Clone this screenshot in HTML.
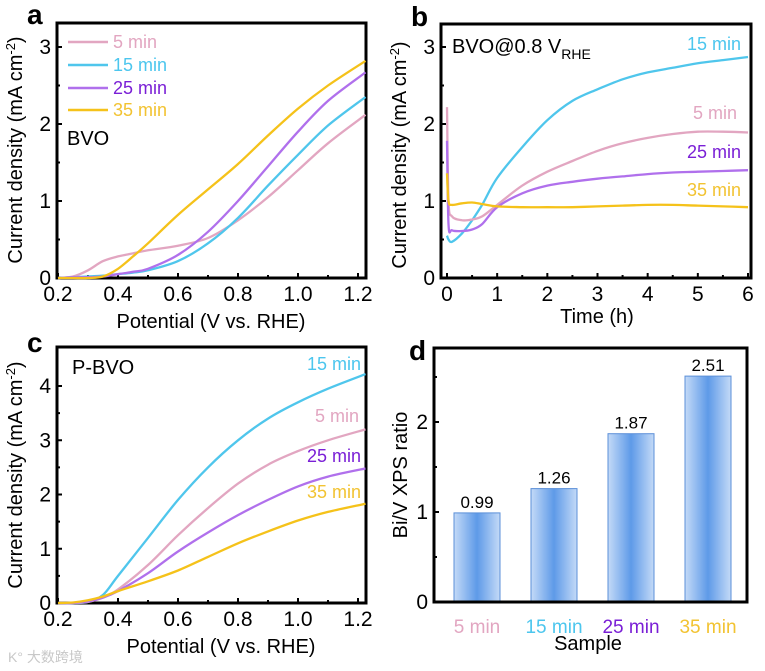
<!DOCTYPE html>
<html><head><meta charset="utf-8"><style>
body{margin:0;background:#fff;}
svg{display:block;font-family:"Liberation Sans",Arial,sans-serif;}
</style></head><body>
<svg id="fig" width="765" height="671" viewBox="0 0 765 671">
<defs>
<linearGradient id="barg" x1="0" x2="1" y1="0" y2="0">
<stop offset="0" stop-color="#c4daf7"/><stop offset="0.5" stop-color="#5e9ae8"/><stop offset="1" stop-color="#c4daf7"/>
</linearGradient>
</defs>
</svg>
<script>
// ---- data ----
const aX=[0.2,0.25,0.3,0.35,0.4,0.45,0.5,0.6,0.7,0.8,0.9,1.0,1.1,1.225];
const a5 =[0,0.02,0.1,0.22,0.28,0.32,0.36,0.42,0.52,0.75,1.05,1.4,1.75,2.12];
const a15=[0,0.01,0.02,0.03,0.05,0.07,0.1,0.22,0.45,0.78,1.2,1.6,1.98,2.35];
const a25=[0,0.01,0.01,0.02,0.05,0.08,0.12,0.3,0.6,1.0,1.45,1.9,2.3,2.67];
const a35=[0,0,0,0.02,0.12,0.28,0.45,0.82,1.15,1.48,1.85,2.2,2.5,2.82];
const bX=[0,0.03,0.1,0.3,0.5,0.7,1,1.5,2,2.5,3,3.5,4,4.5,5,5.5,6];
const b15=[0.55,0.5,0.47,0.58,0.75,0.95,1.3,1.7,2.05,2.3,2.45,2.58,2.67,2.73,2.79,2.83,2.87];
const b5 =[2.22,1.0,0.8,0.75,0.76,0.8,0.95,1.2,1.38,1.52,1.65,1.75,1.82,1.87,1.9,1.9,1.89];
const b25=[1.78,0.7,0.62,0.61,0.63,0.7,0.92,1.1,1.2,1.25,1.29,1.32,1.35,1.37,1.38,1.39,1.4];
const b35=[1.36,1.0,0.95,0.97,0.98,0.96,0.93,0.92,0.92,0.92,0.93,0.94,0.95,0.95,0.94,0.93,0.92];
const cX=[0.2,0.25,0.3,0.35,0.4,0.5,0.6,0.7,0.8,0.9,1.0,1.1,1.225];
const c15=[0,0,0.02,0.15,0.5,1.2,1.9,2.5,3.0,3.4,3.7,3.95,4.22];
const c5 =[0,0,0.02,0.1,0.25,0.7,1.25,1.75,2.2,2.55,2.8,3.0,3.2];
const c25=[0,0,0.03,0.1,0.22,0.55,0.95,1.3,1.62,1.9,2.15,2.33,2.48];
const c35=[0,0.01,0.05,0.12,0.22,0.4,0.6,0.85,1.1,1.32,1.52,1.68,1.83];
const dCats=["5 min","15 min","25 min","35 min"];
const dVals=[0.99,1.26,1.87,2.51];
const dLabels=["0.99","1.26","1.87","2.51"];
const potTicks=["0.2","0.4","0.6","0.8","1.0","1.2"];
const timeTicks=["0","1","2","3","4","5","6"];

const C={p:"#e2a6c1",c:"#4fc6ec",v:"#b070ec",y:"#f5c21a"};
const LC={p:"#e2a6c1",c:"#4cc6ee",v:"#7a1fd6",y:"#f2c332"};
const svg=document.getElementById('fig');
const NS="http://www.w3.org/2000/svg";
function mk(tag,attrs,parent,text){const e=document.createElementNS(NS,tag);for(const k in attrs)e.setAttribute(k,attrs[k]);if(text!==undefined)e.textContent=text;(parent||svg).appendChild(e);return e;}

function panel(o){
  const g=mk('g',{});
  
  
  const sx=v=>o.x0+(v-o.xmin)*(o.x1-o.x0)/(o.xmax-o.xmin);
  const sy=v=>o.y0-(v-o.ymin)*(o.y0-o.y1)/(o.ymax-o.ymin);
  o.sx=sx;o.sy=sy;o.g=g;
  return o;
}
function frame(o){
  const f=mk('rect',{x:o.L,y:o.T,width:o.R-o.L,height:o.B-o.T,fill:'none',stroke:'#000','stroke-width':3},o.g);
  
  
}
function yTicks(o,vals,minor){
  vals.forEach(v=>{const y=o.sy(v);
    mk('line',{x1:o.L,x2:o.L+5,y1:y,y2:y,stroke:'#000','stroke-width':2},o.g);
    const t=mk('text',{x:o.L-6,y:y+7,'text-anchor':'end','font-size':21},o.g,String(v));
    
    });
  (minor||[]).forEach(v=>{const y=o.sy(v);mk('line',{x1:o.L,x2:o.L+3,y1:y,y2:y,stroke:'#000','stroke-width':2},o.g);});
}
function xTicks(o,vals,labels,minor){
  vals.forEach((v,i)=>{const x=o.sx(v);
    mk('line',{x1:x,x2:x,y1:o.B,y2:o.B-5,stroke:'#000','stroke-width':2},o.g);
    const t=mk('text',{x:x,y:o.B+23,'text-anchor':'middle','font-size':21},o.g,labels[i]);
    
    });
  (minor||[]).forEach(v=>{const x=o.sx(v);mk('line',{x1:x,x2:x,y1:o.B,y2:o.B-3,stroke:'#000','stroke-width':2},o.g);});
}
function line(o,xs,ys,col,name){
  const P=xs.map((x,i)=>[o.sx(x),o.sy(ys[i])]);
  let d='M'+P[0][0].toFixed(1)+','+P[0][1].toFixed(1);
  for(let i=0;i<P.length-1;i++){
    const p0=P[Math.max(0,i-1)],p1=P[i],p2=P[i+1],p3=P[Math.min(P.length-1,i+2)];
    const c1=[p1[0]+(p2[0]-p0[0])/6,p1[1]+(p2[1]-p0[1])/6];
    const c2=[p2[0]-(p3[0]-p1[0])/6,p2[1]-(p3[1]-p1[1])/6];
    d+=` C${c1[0].toFixed(1)},${c1[1].toFixed(1)} ${c2[0].toFixed(1)},${c2[1].toFixed(1)} ${p2[0].toFixed(1)},${p2[1].toFixed(1)}`;
  }
  const p=mk('path',{d:d,fill:'none',stroke:col,'stroke-width':2.3,'stroke-linejoin':'round'},o.g);
  
  
}
function txt(o,x,y,s,attrs,name){
  const a=Object.assign({x:x,y:y},attrs);const t=mk('text',a,o.g,s);
  
  
  return t;
}
function yTitle(o,x,y){
  const t=mk('text',{x:0,y:0,transform:`translate(${x},${y}) rotate(-90)`,'text-anchor':'middle','font-size':20},o.g);
  
  
  t.appendChild(document.createTextNode('Current density (mA cm'));
  mk('tspan',{dy:-7,'font-size':13},t,'-2');
  mk('tspan',{dy:7},t,')');
}

// ---- panel a ----
let A=panel({name:'panel-a',L:57,R:366,T:23,B:278,x0:58,x1:358,xmin:0.2,xmax:1.2,y0:278,y1:47,ymin:0,ymax:3});
frame(A);yTicks(A,[0,1,2,3],[0.5,1.5,2.5]);
xTicks(A,[0.2,0.4,0.6,0.8,1.0,1.2],potTicks,[0.3,0.5,0.7,0.9,1.1]);
line(A,aX,a5,C.p,'line-a-5min');line(A,aX,a15,C.c,'line-a-15min');line(A,aX,a25,C.v,'line-a-25min');line(A,aX,a35,C.y,'line-a-35min');
[[C.p,LC.p,' 5 min',42],[C.c,LC.c,'15 min',65],[C.v,LC.v,'25 min',88],[C.y,LC.y,'35 min',110]].forEach(l=>{
  mk('line',{x1:68,x2:108,y1:l[3],y2:l[3],stroke:l[0],'stroke-width':2.5},A.g);
  txt(A,113,l[3]+6,l[2],{'font-size':18,fill:l[1],'xml:space':'preserve'},'legend-entry');});
txt(A,67,145,'BVO',{'font-size':20},'sample-label');
txt(A,211,328,'Potential (V vs. RHE)',{'font-size':20,'text-anchor':'middle'},'x-axis-title');
yTitle(A,22,150);
txt(A,27,24,'a',{'font-size':28,'font-weight':'bold'},'panel-letter');

// ---- panel b ----
let B=panel({name:'panel-b',L:441,R:751,T:24,B:278,x0:447,x1:748,xmin:0,xmax:6,y0:278,y1:47,ymin:0,ymax:3});
frame(B);yTicks(B,[0,1,2,3],[0.5,1.5,2.5]);
xTicks(B,[0,1,2,3,4,5,6],timeTicks,[0.5,1.5,2.5,3.5,4.5,5.5]);
line(B,bX,b15,C.c,'line-b-15min');line(B,bX,b5,C.p,'line-b-5min');line(B,bX,b25,C.v,'line-b-25min');line(B,bX,b35,C.y,'line-b-35min');
const bt=txt(B,452,53,'BVO@0.8 V',{'font-size':20},'condition-label');
mk('tspan',{dy:6,'font-size':14},bt,'RHE');
txt(B,741,50,'15 min',{'font-size':18,fill:LC.c,'text-anchor':'end'},'series-label-15min');
txt(B,737,119,'5 min',{'font-size':18,fill:LC.p,'text-anchor':'end'},'series-label-5min');
txt(B,741,158,'25 min',{'font-size':18,fill:LC.v,'text-anchor':'end'},'series-label-25min');
txt(B,741,196,'35 min',{'font-size':18,fill:LC.y,'text-anchor':'end'},'series-label-35min');
txt(B,597,323,'Time (h)',{'font-size':20,'text-anchor':'middle'},'x-axis-title');
yTitle(B,406,155);
txt(B,411,26,'b',{'font-size':28,'font-weight':'bold'},'panel-letter');

// ---- panel c ----
let Cp=panel({name:'panel-c',L:57,R:366,T:347,B:603,x0:58,x1:358,xmin:0.2,xmax:1.2,y0:603,y1:386,ymin:0,ymax:4});
frame(Cp);yTicks(Cp,[0,1,2,3,4],[0.5,1.5,2.5,3.5]);
xTicks(Cp,[0.2,0.4,0.6,0.8,1.0,1.2],potTicks,[0.3,0.5,0.7,0.9,1.1]);
line(Cp,cX,c15,C.c,'line-c-15min');line(Cp,cX,c5,C.p,'line-c-5min');line(Cp,cX,c25,C.v,'line-c-25min');line(Cp,cX,c35,C.y,'line-c-35min');
txt(Cp,72,374,'P-BVO',{'font-size':20},'sample-label');
txt(Cp,361,370,'15 min',{'font-size':18,fill:LC.c,'text-anchor':'end'},'series-label-15min');
txt(Cp,359,422,'5 min',{'font-size':18,fill:LC.p,'text-anchor':'end'},'series-label-5min');
txt(Cp,361,462,'25 min',{'font-size':18,fill:LC.v,'text-anchor':'end'},'series-label-25min');
txt(Cp,361,498,'35 min',{'font-size':18,fill:LC.y,'text-anchor':'end'},'series-label-35min');
txt(Cp,221,653,'Potential (V vs. RHE)',{'font-size':20,'text-anchor':'middle'},'x-axis-title');
yTitle(Cp,22,475);
txt(Cp,27,352,'c',{'font-size':28,'font-weight':'bold'},'panel-letter');
txt(Cp,8,662,'K° 大数跨境',{'font-size':14,fill:'#c8c8c8'},'watermark');

// ---- panel d ----
let D=panel({name:'panel-d',L:434,R:747,T:348,B:602,x0:438,x1:747,xmin:0,xmax:4,y0:602,y1:422,ymin:0,ymax:2});
const bw=46,step=77,first=477;
dVals.forEach((v,i)=>{const cx=first+i*step;const y=D.sy(v);
  const r=mk('rect',{x:cx-bw/2,y:y,width:bw,height:D.B-y,fill:'url(#barg)',stroke:'#5b8fd8','stroke-width':1},D.g);
  
  
  txt(D,cx,y-5,dLabels[i],{'font-size':17,'text-anchor':'middle'},'bar-value-label');
  txt(D,cx,D.B+31,dCats[i],{'font-size':19,'text-anchor':'middle',fill:[LC.p,LC.c,LC.v,LC.y][i]},'x-category-label');
});
frame(D);yTicks(D,[0,1,2],[0.5,1.5,2.5]);
txt(D,588,650,'Sample',{'font-size':20,'text-anchor':'middle'},'x-axis-title');
const dt=mk('text',{x:0,y:0,transform:'translate(407,475) rotate(-90)','text-anchor':'middle','font-size':20},D.g,'Bi/V XPS ratio');


txt(D,409,360,'d',{'font-size':28,'font-weight':'bold'},'panel-letter');
</script>
</body></html>
